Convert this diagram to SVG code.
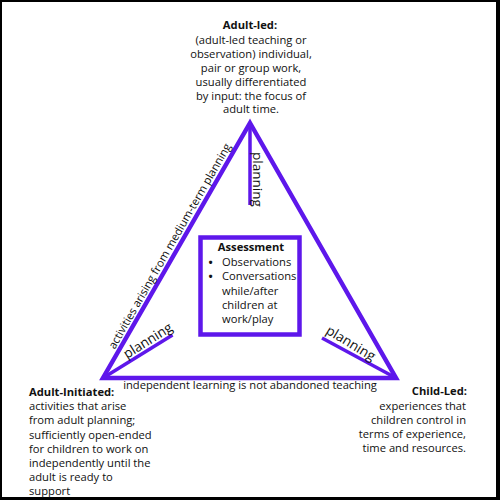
<svg xmlns="http://www.w3.org/2000/svg" width="500" height="500" viewBox="0 0 500 500">
<style>
.t{font-family:"Open Sans","DejaVu Sans",sans-serif;font-size:11.2px;fill:#111}
.b{font-weight:bold}
.p{font-family:"Open Sans","DejaVu Sans",sans-serif;font-size:13.5px;fill:#111}
.ln{stroke:#5e17eb;fill:none}
</style>
<rect x="0" y="0" width="500" height="500" fill="#000"/>
<rect x="2" y="2" width="494" height="495" fill="#fff"/>
<g id="connectors">
<polygon class="ln" points="250,123 396,378 103,378" stroke-width="4.5" stroke-linejoin="miter"/>
<line class="ln" x1="250" y1="123" x2="250" y2="205" stroke-width="3.5"/>
<line class="ln" x1="103" y1="378" x2="172.5" y2="335" stroke-width="3.5"/>
<line class="ln" x1="396" y1="378" x2="322" y2="338" stroke-width="3.5"/>
<text class="p" transform="translate(253,152) rotate(90)">planning</text>
<text class="p" transform="translate(127,359) rotate(-32)">planning</text>
<text class="p" transform="translate(325,333) rotate(31)">planning</text>
<text class="t" text-anchor="middle" transform="translate(173,248) rotate(-60.2)">activities arising from medium-term planning</text>
<text class="t" x="250" y="388.5" text-anchor="middle">independent learning is not abandoned teaching</text>
</g>
<g id="adult-led">
<text class="t" text-anchor="middle"><tspan class="b" x="250" y="29">Adult-led:</tspan><tspan x="251" y="43.5">(adult-led teaching or</tspan><tspan x="251" y="57.5">observation) individual,</tspan><tspan x="251" y="71.5">pair or group work,</tspan><tspan x="251" y="85.5">usually differentiated</tspan><tspan x="251" y="99.5">by input: the focus of</tspan><tspan x="251" y="113">adult time.</tspan></text>
</g>
<g id="assessment">
<rect class="ln" x="200.5" y="237.5" width="99" height="97" stroke-width="4.5"/>
<text class="t b" x="251" y="251" text-anchor="middle">Assessment</text>
<text class="t b" x="208.5" y="266">•</text>
<text class="t b" x="208.5" y="280">•</text>
<text class="t"><tspan x="222" y="266">Observations</tspan><tspan x="222" y="280">Conversations</tspan><tspan x="222" y="294.5">while/after</tspan><tspan x="222" y="309">children at</tspan><tspan x="222" y="323">work/play</tspan></text>
</g>
<g id="adult-initiated">
<text class="t"><tspan class="b" x="29" y="396">Adult-Initiated:</tspan><tspan x="29" y="410">activities that arise</tspan><tspan x="29" y="424">from adult planning;</tspan><tspan x="29" y="438.5">sufficiently open-ended</tspan><tspan x="29" y="452.5">for children to work on</tspan><tspan x="29" y="467">independently until the</tspan><tspan x="29" y="481">adult is ready to</tspan><tspan x="29" y="495">support</tspan></text>
</g>
<g id="child-led">
<text class="t" text-anchor="end"><tspan class="b" x="467" y="395">Child-Led:</tspan><tspan x="466" y="409.5">experiences that</tspan><tspan x="466" y="424">children control in</tspan><tspan x="466" y="438">terms of experience,</tspan><tspan x="466" y="452">time and resources.</tspan></text>
</g>
</svg>
